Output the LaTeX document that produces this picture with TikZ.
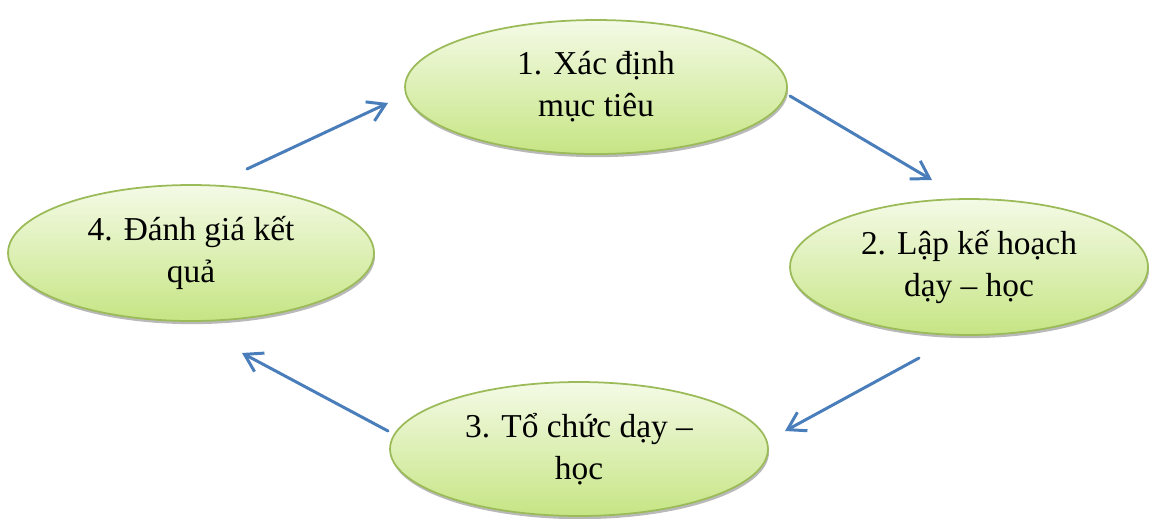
\documentclass[tikz,border=0pt]{standalone}
\usepackage{fontspec}
\setmainfont{Liberation Serif}
\usetikzlibrary{shapes.geometric,arrows.meta,shadows}
\definecolor{ebord}{HTML}{9BBB59}
\definecolor{etop}{HTML}{F4FAE6}
\definecolor{ebot}{HTML}{C6E584}
\definecolor{arr}{HTML}{4A7EBB}
\tikzset{
  stage/.style={ellipse, draw=ebord, line width=1pt, top color=etop, bottom color=ebot,
    drop shadow={shadow xshift=0.6pt, shadow yshift=-1.8pt, fill=black!50, opacity=0.55},
    align=center, font=\fontsize{19}{24}\selectfont, inner sep=0pt},
  flow/.style={draw=arr, line width=1.7pt, line cap=round,
    -{Straight Barb[length=0.34cm, width=0.42cm, line width=1.7pt]}}
}
\begin{document}
\begin{tikzpicture}[x=0.02cm, y=-0.02cm]
\useasboundingbox (0,0) rectangle (1152,518);
\node[stage, minimum width=7.64cm, minimum height=2.68cm] (e1) at (596,87) {1. Xác định\\mục tiêu};
\node[stage, minimum width=7.16cm, minimum height=2.72cm] (e2) at (969,267) {2. Lập kế hoạch\\dạy – học};
\node[stage, minimum width=7.56cm, minimum height=2.68cm] (e3) at (579,449) {3. Tổ chức dạy –\\học};
\node[stage, minimum width=7.32cm, minimum height=2.72cm] (e4) at (191,253) {4. Đánh giá kết\\quả};
\coordinate (a1s) at (247,169);
\coordinate (a1e) at (388,103);
\coordinate (a2s) at (790,96);
\coordinate (a2e) at (932,180);
\coordinate (a3s) at (919,358);
\coordinate (a3e) at (785,431);
\coordinate (a4s) at (388,431);
\coordinate (a4e) at (242,353);
\draw[flow] (a1s) -- (a1e);
\draw[flow] (a2s) -- (a2e);
\draw[flow] (a3s) -- (a3e);
\draw[flow] (a4s) -- (a4e);
\end{tikzpicture}
\end{document}
